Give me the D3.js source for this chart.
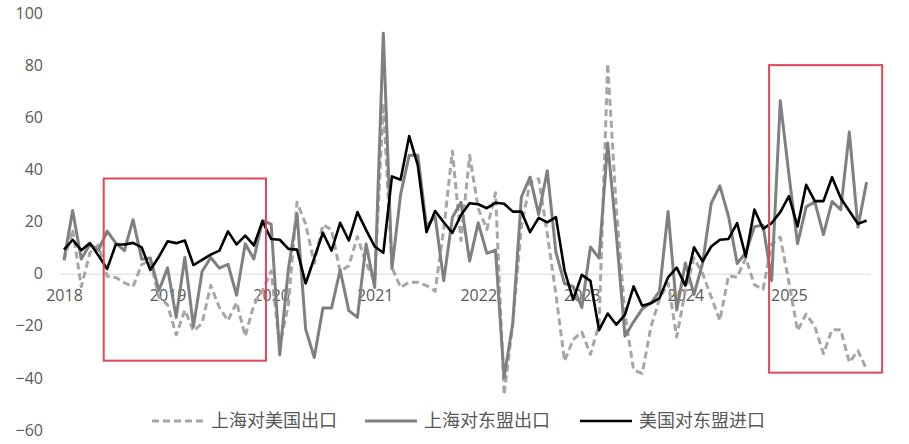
<!DOCTYPE html>
<html><head><meta charset="utf-8">
<script src="https://cdn.jsdelivr.net/npm/d3@7"></script>
<style>
html,body{margin:0;padding:0;background:#fff;}
svg{display:block;}
</style></head>
<body>
<svg id="chart" width="909" height="444"></svg>
<script>
// ---- data ----
const years = [2018, 2019, 2020, 2021, 2022, 2023, 2024, 2025];
const lastMonth = "2025-10";
const seriesNames = ["上海对美国出口", "上海对东盟出口", "美国对东盟进口"];
const yTicks = [-60, -40, -20, 0, 20, 40, 60, 80, 100];

const shUS = [5,17,-5,8,11,-1,-1.5,-3.5,-5,3.5,5,-9,-12,-23.5,-14,-22,-19,-4.5,-13,-18,-11,-24,-12,-6.5,
  1,-28,-11.7,27.4,19,4,18.8,16.8,0.8,3,14.2,4,
  -3,65.3,2.4,-5.3,-3.3,-3.3,-4.6,-6.8,17,47,12.7,45.4,
  25,17,31,-46.5,-19,18,35,36.4,15.3,-8,-33.5,-25.3,
  -22.4,-31,-19.5,80.6,25,-15.5,-37,-38.3,-20.6,-9.7,-3.6,-24.3,
  -6.5,6,0,-9,-18,-0.8,-1.4,6,-4.3,-6,11.4,14,
  -3.3,-21.9,-15.5,-20.3,-30.7,-21.5,-21.5,-34.1,-29.6,-36.7];
const shASEAN = [5.3,24.2,5.6,11.3,9,16.3,11.7,8.8,20.7,5.5,6,-6.5,
  2.2,-16.8,6.3,-20.3,0.8,6.2,2.1,3.6,-8.3,11.5,5.6,20.4,
  19,-31.2,1.8,23,-21.3,-32.2,-13.2,-13.2,1.4,-14.2,-16.8,11.4,
  -5.3,92.2,2,30.3,45.4,45.4,18,22,-2.7,21.5,27.4,4.8,
  19.5,7.8,9,-39.9,-19,29.4,37,22.7,39.5,8.2,-3.8,-5,
  -13,10.2,6,50.1,15,-24,-18.5,-13.6,-11.3,-6.8,23.8,-14,
  4.1,-8,4,27,33.7,22,3.9,8,18,18.6,-2.7,66.3,
  38,11.5,25.6,27.6,15,27.7,24.5,54.3,17.8,35.1];
const usASEAN = [9.2,13,9,11.7,6.9,1.8,11.2,11.2,11.8,10.1,1.4,6.5,
  12.4,11.7,12.7,3.3,5.3,7.3,8.8,16.2,11.2,14.6,10.8,20.1,
  13.3,13,9.5,9.2,-3.8,6,15.7,8.8,19.5,12.7,23.6,16.8,
  10.4,8,37.3,36,52.8,41.5,15.9,24,19.7,15.6,22.5,27,
  26.6,25.1,27.2,26.8,23.8,23.8,15.9,21.4,19.7,21.7,1.2,-10,
  -0.5,-2.8,-21.7,-15.3,-19.6,-15.8,-4.9,-12.3,-11.4,-9.4,-1.4,2.3,
  -4.6,10.1,4.7,10.4,13,13.3,19.4,6.5,24.6,17.2,19.4,23.6,
  29.7,18.1,34.1,27.8,27.8,37,29,24,19.1,20.4];

// highlight boxes in (month index, value) units
const boxes = [
  {i0: 4.6, i1: 23.4, v0: -33.4, v1: 36.5},
  {i0: 81.7, i1: 94.8, v0: -38, v1: 80}
];

// ---- categories ----
const months = [];
for (const y of years) {
  for (let m = 1; m <= 12; m++) {
    const k = y + "-" + String(m).padStart(2, "0");
    months.push(k);
    if (k === lastMonth) break;
  }
}

const svg = d3.select("#chart");
const x = d3.scalePoint().domain(months).range([59.7, 870.9]).padding(0.5);
const y = d3.scaleLinear().domain([-60, 100]).range([430, 13]);
const xi = d3.scaleLinear().domain([0, months.length - 1]).range([x(months[0]), x(months[months.length - 1])]);

const FONT = "'Open Sans', 'Noto Sans', sans-serif";
const TXT = "#595959";

// y axis labels
const yAxis = svg.append("g").attr("transform", "translate(43,0)")
  .call(d3.axisLeft(y).tickValues(yTicks).tickSize(0).tickPadding(0).tickFormat(d3.format("d")));
yAxis.select(".domain").remove();
yAxis.selectAll("text").attr("font-family", FONT).attr("font-size", 16).attr("fill", TXT);

// x axis at zero
const janTicks = months.filter(d => d.endsWith("-01"));
const xAxis = svg.append("g").attr("transform", `translate(0,${y(0)})`)
  .call(d3.axisBottom(x).tickValues(janTicks).tickSize(0).tickPadding(16).tickFormat(d => d.slice(0, 4)));
xAxis.select(".domain").attr("stroke", "#d9d9d9").attr("stroke-width", 1)
  .attr("d", `M59.7,0.5H870.9`);
xAxis.selectAll("text").attr("font-family", FONT).attr("font-size", 16).attr("fill", TXT);

const line = d3.line().x((d, i) => x(months[i])).y(d => y(d));

const styles = [
  {data: shUS, color: "#a6a6a6", w: 3, dash: "7,4"},
  {data: shASEAN, color: "#808080", w: 3, dash: null},
  {data: usASEAN, color: "#000000", w: 2.6, dash: null}
];
styles.forEach(s => {
  svg.append("path").datum(s.data)
    .attr("d", line).attr("fill", "none")
    .attr("stroke", s.color).attr("stroke-width", s.w)
    .attr("stroke-linejoin", "round")
    .attr("stroke-dasharray", s.dash);
});

// highlight boxes
svg.selectAll("rect.box").data(boxes).enter().append("rect")
  .attr("class", "box")
  .attr("x", d => xi(d.i0)).attr("y", d => y(d.v1))
  .attr("width", d => xi(d.i1) - xi(d.i0)).attr("height", d => y(d.v0) - y(d.v1))
  .attr("fill", "none").attr("stroke", "#e0485a").attr("stroke-width", 2);

// legend
const legendPos = [152, 365, 580];
const lg = svg.append("g").attr("transform", "translate(0,421)");
styles.forEach((s, k) => {
  const g = lg.append("g").attr("transform", `translate(${legendPos[k]},0)`);
  g.append("line").attr("x1", 0).attr("x2", 52).attr("y1", 0).attr("y2", 0)
    .attr("stroke", s.color).attr("stroke-width", s.w).attr("stroke-dasharray", s.dash);
  g.append("text").attr("x", 59).attr("y", 0).attr("dy", "0.35em")
    .attr("font-family", "'Noto Sans CJK SC', sans-serif").attr("font-size", 18)
    .attr("fill", TXT).text(seriesNames[k]);
});
</script>
</body></html>
